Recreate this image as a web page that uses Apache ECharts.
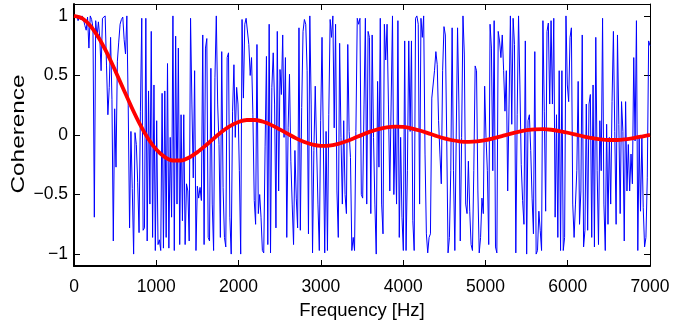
<!DOCTYPE html>
<html><head><meta charset="utf-8">
<script src="https://cdn.jsdelivr.net/npm/echarts@6/dist/echarts.min.js"></script>
<style>html,body{margin:0;padding:0;background:#fff}#c{width:694px;height:328px}</style>
</head><body><div id="c"></div>
<script>
const xTickValues = [0, 1000, 2000, 3000, 4000, 5000, 6000, 7000];
const yTickValues = [-1, -0.5, 0, 0.5, 1];
const freqMinHz = 0;
const freqMaxHz = 7000;

// measured coherence (blue), evenly spaced from freqMinHz to freqMaxHz
const measuredCoherence = [
 0.99, 0.98, 1.0, 0.96, 0.99, 0.97, 1.0, 0.97, 0.92, 0.88, 0.99, 0.73, 1.0, 0.97, 0.9, -0.69, 0.96, 0.82, 0.95, 0.82,
 0.54, 0.98, 0.99, 1.0, 0.58, 0.17, 0.4, 0.82, 0.3, -0.89, 0.22, -0.27, 0.62, 0.78, 0.93, 0.97, 0.99, 0.8, 0.68, 1.0,
 0.25, -0.78, 0.03, -0.45, -1.0, 0.02, -0.08, -0.4, -0.82, 0.2, 0.98, -0.8, -0.78, 0.98, -0.89, 0.37, -0.58, 0.87, -0.86, 0.42,
 -0.97, 0.12, -0.92, -0.88, -0.97, 0.35, -0.95,
 0.37, -0.86, 0.6, -0.95, -0.02, -0.69, 1.0, -0.97, 0.83, -0.58, 0.73, -0.92, 0.17, -0.72, 0.17, -0.92, -0.41, -0.47, -0.89, 0.98,
 0.26, -0.36, 0.54, -0.97, -0.43, -0.53, -0.44, -0.55, 0.84, -0.92, 0.73, 0.81, -0.86, -0.89, 0.56, -0.58, -0.97, 0.48, 1.0, 0.26,
 -0.08, -0.86, 0.7, -0.44, -0.86, -0.94, 0.65, 0.69, -0.69, -1.0, 0.2, 0.59, -0.02, 0.4, 0.26, -0.3, -1.0, 0.97, 0.31, 0.93,
 0.98, 0.97, 0.76, 0.5, 0.65, 0.17, -0.55, -0.75,
 0.76, -0.66, -0.5, -0.69, -0.97, -0.99, -0.1, 0.66, -0.92, 0.93, -0.99, 0.4, 0.69, 0.26, -0.78, 0.87, -0.47, 0.55, 0.34, 0.84,
 -0.02, 0.65, -0.86, 0.06, 0.51, -0.22, -0.58, -0.92, -0.13, -0.53, -0.78, 0.9, -0.8, 0.23, 0.87, 0.97, 0.93, 0.54, -0.83, 1.0,
 0.26, -0.99, -0.13, 0.41, -0.1, -0.58, -0.97, 0.12, 0.82, 0.82, -0.99, 0.03, -0.97, 0.17, 0.97, 0.82, 1.0, 0.06, 0.93, -0.47,
 -0.86, 0.77, -0.02, -0.58, 0.12, -0.5, -0.66, 0.76, 0.03, -0.19, -0.97,
 -0.86, -0.97, 0.03, 0.98, 0.93, 0.98, -0.5, -0.53, 0.26, 0.98, -0.58, 0.87, 0.82, -0.66, 0.84, -0.02, -0.58, -1.0, 0.45, -0.27,
 0.98, -0.58, -0.83, 0.93, 0.63, 0.93, 0.26, -0.47, -0.47, 1.0, -0.5, 0.06, -0.58, 0.96, -0.86, -0.02, -0.69, -0.97, 0.79, -0.97,
 -0.3, 0.79, 0.03, 0.79, -0.72, -0.97, 0.98, 1.0, 0.93, -0.58, 0.98, 0.82, 1.0, -0.16, -0.83, -0.99, -0.86, -0.83, 0.31, 0.3,
 0.54, 0.7, 0.59, 0.12, -0.16, -0.41, 0.54, 0.91, 0.84, -0.02, -0.99, -0.86,
 -0.3, 0.9, -0.3, -0.97, -0.97, 0.9, 0.26, -0.89, -0.02, 1.0, 0.68, -0.58, -0.66, -0.22, -0.64, -0.92, -0.97, -0.3, 0.58, 0.54,
 -0.47, -0.99, -0.86, -0.53, -0.66, 0.41, -0.02, -0.3, -0.92, 0.93, 0.73, -0.3, 0.96, -0.94, -0.99, 0.87, 0.79, 0.65, 0.84, 0.54,
 0.2, 0.54, -0.47, 0.26, 1.0, 0.09, 0.98, 0.76, -0.99, 0.17, 1.0, 0.42, -0.25, -0.55, -0.75, 0.79, -1.0, 0.12, 0.17, -0.13,
 -0.53, -0.83, 0.7, -1.0, -0.97, -0.64, -0.8, -0.97, 0.96, 0.2, -0.64, 0.87, 0.94, 0.26,
 0.96, 0.26, 0.98, -0.69, 0.17, -0.86, 0.54, -0.97, 0.54, -0.97, -0.86, 1.0, 0.42, 0.28, 0.82, 0.9, -0.58, -0.86, -0.58, -0.3,
 0.45, -0.75, -0.47, 0.84, -0.94, -0.8, 0.26, -0.8, 0.26, 0.34, -0.86, 0.42, -0.94, 0.82, -0.3, -0.92, 0.12, -0.3, 0.98, -0.58,
 -0.97, 0.09, -0.75, -0.02, -0.58, 0.28, 0.87, 0.03, -0.75, 0.84, 0.09, -0.66, 0.28, 0.03, -0.89, 0.28, -0.47, -0.08, -0.47, -0.16,
 -0.41, 0.65, -0.05, 0.96, -0.97, -0.02, -0.64, -0.02, -0.61, -0.94, -0.86, -0.36, 0.79, 0.75
];

// model coherence (red)
const modelFreqHz = [
 0, 100, 200, 300, 400, 500, 600, 700, 800, 900, 1000, 1100, 1200, 1300, 1400, 1500, 1600, 1700, 1800, 1900,
 2000, 2100, 2200, 2300, 2400, 2500, 2600, 2700, 2800, 2900, 3000, 3100, 3200, 3300, 3400, 3500, 3600, 3700, 3800, 3900,
 4000, 4100, 4200, 4300, 4400, 4500, 4600, 4700, 4800, 4900, 5000, 5100, 5200, 5300, 5400, 5500, 5600, 5700, 5800, 5900,
 6000, 6100, 6200, 6300, 6400, 6500, 6600, 6700, 6800, 6900, 7000
];
const modelCoherence = [
 1.0, 0.979, 0.916, 0.817, 0.690, 0.542, 0.387, 0.233, 0.091, -0.029, -0.122, -0.184, -0.214, -0.214, -0.189, -0.144, -0.088, -0.028, 0.029, 0.076,
 0.109, 0.126, 0.126, 0.111, 0.083, 0.047, 0.009, -0.028, -0.059, -0.081, -0.091, -0.089, -0.076, -0.055, -0.028, 0.001, 0.028, 0.050, 0.065, 0.071,
 0.068, 0.056, 0.038, 0.016, -0.007, -0.028, -0.044, -0.055, -0.058, -0.054, -0.043, -0.027, -0.009, 0.010, 0.027, 0.040, 0.048, 0.049, 0.044, 0.033,
 0.019, 0.003, -0.013, -0.027, -0.037, -0.042, -0.042, -0.036, -0.026, -0.013, 0.001
];

const blueStep = (freqMaxHz - freqMinHz) / (measuredCoherence.length - 1);
const blueData = measuredCoherence.map((v, i) => [freqMinHz + i * blueStep, v]);
const redData = modelFreqHz.map((f, i) => [f, modelCoherence[i]]);

const tickFont = '"Liberation Sans", Arial, sans-serif';
const nameFont = '"Liberation Sans", Arial, sans-serif';
const minusFmt = v => String(v).replace('-', '\u2212');

const chart = echarts.init(document.getElementById('c'), null, {renderer: 'canvas'});
chart.setOption({
  animation: false,
  backgroundColor: '#fff',
  grid: {left: 74, right: 44, top: 4, bottom: 62, containLabel: false},
  xAxis: [{
    type: 'value', min: freqMinHz, max: freqMaxHz, interval: 1000, position: 'bottom',
    axisLine: {show: true, onZero: false, lineStyle: {color: '#000', width: 2}},
    axisTick: {show: true, inside: true, length: 6, lineStyle: {color: '#000', width: 1}},
    axisLabel: {show: true, color: '#000', fontSize: 17.5, fontFamily: tickFont, margin: 12, formatter: minusFmt},
    splitLine: {show: false},
    name: 'Frequency [Hz]', nameLocation: 'middle', nameGap: 35,
    nameTextStyle: {color: '#000', fontSize: 18.5, fontFamily: nameFont}
  }, {
    type: 'value', min: freqMinHz, max: freqMaxHz, interval: 1000, position: 'top',
    axisLine: {show: true, onZero: false, lineStyle: {color: '#000', width: 1}},
    axisTick: {show: true, inside: true, length: 6, lineStyle: {color: '#000', width: 1}},
    axisLabel: {show: false}, splitLine: {show: false}
  }],
  yAxis: [{
    type: 'value', min: -1.1, max: 1.1, position: 'left',
    axisLine: {show: true, onZero: false, lineStyle: {color: '#000', width: 2}},
    axisTick: {show: true, inside: true, length: 6, customValues: yTickValues, lineStyle: {color: '#000', width: 1}},
    axisLabel: {show: true, color: '#000', fontSize: 17.5, fontFamily: tickFont, margin: 6, customValues: yTickValues, formatter: minusFmt},
    splitLine: {show: false}
  }, {
    type: 'value', min: -1.1, max: 1.1, position: 'right',
    axisLine: {show: true, onZero: false, lineStyle: {color: '#000', width: 1}},
    axisTick: {show: true, inside: true, length: 6, customValues: yTickValues, lineStyle: {color: '#000', width: 1}},
    axisLabel: {show: false}, splitLine: {show: false}
  }],
  graphic: [{
    type: 'text', x: 19, y: 134, rotation: Math.PI / 2, scaleX: 1.28,
    style: {text: 'Coherence', font: '19px "Liberation Sans", Arial, sans-serif', fill: '#000', align: 'center', verticalAlign: 'middle'}
  }],
  series: [{
    type: 'line', data: blueData, xAxisIndex: 0, yAxisIndex: 0,
    showSymbol: false, symbol: 'none',
    lineStyle: {color: '#0000ff', width: 1}, z: 2
  }, {
    type: 'line', data: redData, xAxisIndex: 0, yAxisIndex: 0,
    showSymbol: false, symbol: 'none', smooth: 0.3,
    lineStyle: {color: '#ff0000', width: 3.8}, z: 3
  }]
});
</script>
</body></html>
